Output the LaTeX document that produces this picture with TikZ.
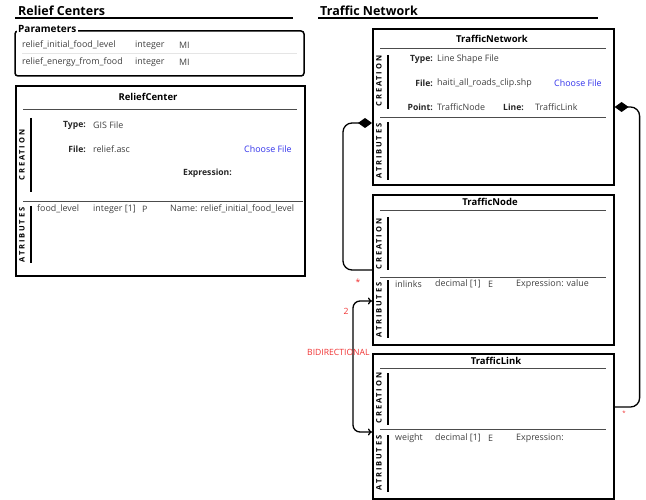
\documentclass[tikz,border=0pt]{standalone}
\usepackage{fontspec}
\setmainfont{Open Sans}
\newfontfamily\spaced[LetterSpace=25]{Open Sans}
\usepackage{xcolor}
\usepackage{tikz}
\usetikzlibrary{calc,arrows.meta}

\definecolor{textgray}{RGB}{64,64,64}
\definecolor{labelred}{RGB}{240,50,50}
\definecolor{linkblue}{RGB}{50,50,235}

\begin{document}
\begin{tikzpicture}[x=1pt,y=-1pt]
        % Styles for the boxes, their texts and the connectors
        \tikzstyle{heading}=[font=\fontsize{12.5}{14}\selectfont\bfseries, anchor=west, inner sep=0];
        \tikzstyle{classbox}=[draw, line width=1.6, anchor=north west, inner sep=0];
        \tikzstyle{classname}=[font=\fontsize{9.5}{11}\selectfont\bfseries, inner sep=0];
        \tikzstyle{fieldtext}=[font=\fontsize{8.9}{10}\selectfont, text=textgray, anchor=west, inner sep=0];
        \tikzstyle{fieldkey}=[font=\fontsize{8.6}{10}\selectfont\bfseries, text=black!85, anchor=east, inner sep=0];
        \tikzstyle{sidelabel}=[font=\spaced\fontsize{7.5}{8}\selectfont\bfseries, rotate=90, inner sep=0];
        \tikzstyle{sidebar}=[line width=1.8];
        \tikzstyle{rulerline}=[draw=black!70, line width=0.9];
        \tikzstyle{conn}=[line width=1.3, rounded corners=9];
        \tikzstyle{redlabel}=[font=\fontsize{8.6}{10}\selectfont, text=labelred, inner sep=0];

        \useasboundingbox (0,0) rectangle (646,500);

        % Section headings
        \node[heading] (reliefhead) at (18,11) {Relief Centers};
        \draw[line width=2] (15,18) -- (293,18);
        \node[heading] (traffichead) at (320,11) {Traffic Network};
        \draw[line width=2] (318,18) -- (598,18);

        % Parameters box
        \draw[line width=1.5, rounded corners=3] (15,31) rectangle (304,76);
        \node[fill=white, font=\fontsize{10}{12}\selectfont\bfseries, anchor=west, inner sep=1.5] (params) at (16.5,29) {Parameters};
        \foreach \pname/\py in {relief\_initial\_food\_level/45, relief\_energy\_from\_food/62} {
            \node[fieldtext] (pname\py) at (22,\py) {\pname};
            \node[fieldtext] (ptype\py) at (135,\py) {integer};
            \node[fieldtext] (punit\py) at (179,\py) {MI};
        }
        \draw[draw=black!10, line width=0.8] (22,53) -- (297,53);

        % ReliefCenter box
        \node[classbox, minimum width=289, minimum height=190] (relief) at (15,85) {};
        \node[classname] (reliefname) at (148,97) {ReliefCenter};
        \draw[rulerline] (23,109) -- (297,109);
        \node[sidelabel] (reliefcreation) at (22,155) {CREATION};
        \draw[sidebar] (31,118) -- (31,192);
        \node[fieldkey] (relieftypekey) at (86,125) {Type:};
        \node[fieldtext] (relieftype) at (93,125) {GIS File};
        \node[fieldkey] (relieffilekey) at (86,149) {File:};
        \node[fieldtext] (relieffile) at (93,149) {relief.asc};
        \node[fieldtext, text=linkblue] (reliefchoose) at (244,149) {Choose File};
        \node[fieldkey, anchor=west] (reliefexpr) at (183,173) {Expression:};
        \draw[rulerline] (23,201) -- (303,201);
        \node[sidelabel] (reliefattr) at (22,235) {ATRIBUTES};
        \draw[sidebar] (31,206) -- (31,263);
        \node[fieldtext] (foodname) at (37,209) {food\_level};
        \node[fieldtext] (foodtype) at (93,209) {integer [1]};
        \node[fieldtext] (foodkind) at (142,209) {P};
        \node[fieldtext] (foodvalue) at (170,209) {Name: relief\_initial\_food\_level};

        % TrafficNetwork box
        \node[classbox, minimum width=241, minimum height=156] (network) at (372,28) {};
        \node[classname] (networkname) at (492,39) {TrafficNetwork};
        \draw[rulerline] (380,48) -- (606,48);
        \node[sidelabel] (networkcreation) at (379,81) {CREATION};
        \draw[sidebar] (388,55) -- (388,109);
        \node[fieldkey] (networktypekey) at (433,59) {Type:};
        \node[fieldtext] (networktype) at (437,59) {Line Shape File};
        \node[fieldkey] (networkfilekey) at (433,83) {File:};
        \node[fieldtext] (networkfile) at (437,83) {haiti\_all\_roads\_clip.shp};
        \node[fieldtext, text=linkblue] (networkchoose) at (554,83) {Choose File};
        \node[fieldkey] (networkpointkey) at (433,107) {Point:};
        \node[fieldtext] (networkpoint) at (437,107) {TrafficNode};
        \node[fieldkey, anchor=west] (networklinekey) at (503,107) {Line:};
        \node[fieldtext] (networkline) at (535,107) {TrafficLink};
        \draw[rulerline] (380,117) -- (606,117);
        \node[sidelabel] (networkattr) at (379,151) {ATRIBUTES};
        \draw[sidebar] (388,122) -- (388,180);

        % TrafficNode box
        \node[classbox, minimum width=241, minimum height=150] (trafnode) at (372,194) {};
        \node[classname] (trafnodename) at (490,202) {TrafficNode};
        \draw[rulerline] (380,210) -- (606,210);
        \node[sidelabel] (trafnodecreation) at (379,244) {CREATION};
        \draw[sidebar] (388,217) -- (388,270);
        \draw[rulerline] (380,277) -- (606,277);
        \node[sidelabel] (trafnodeattr) at (379,310) {ATRIBUTES};
        \draw[sidebar] (388,280) -- (388,338);
        \node[fieldtext] (inlinksname) at (395,284) {inlinks};
        \node[fieldtext] (inlinkstype) at (435,284) {decimal [1]};
        \node[fieldtext] (inlinkskind) at (488,284) {E};
        \node[fieldtext] (inlinksvalue) at (516,284) {Expression: value};

        % TrafficLink box
        \node[classbox, minimum width=241, minimum height=145] (link) at (372,353) {};
        \node[classname] (linkname) at (496,361) {TrafficLink};
        \draw[rulerline] (380,368) -- (606,368);
        \node[sidelabel] (linkcreation) at (379,398) {CREATION};
        \draw[sidebar] (388,373) -- (388,425);
        \draw[rulerline] (380,429) -- (606,429);
        \node[sidelabel] (linkattr) at (379,463) {ATRIBUTES};
        \draw[sidebar] (388,435) -- (388,492);
        \node[fieldtext] (weightname) at (395,438) {weight};
        \node[fieldtext] (weighttype) at (435,438) {decimal [1]};
        \node[fieldtext] (weightkind) at (488,438) {E};
        \node[fieldtext] (weightvalue) at (516,438) {Expression:};

        % Connector end points on the box edges
        \coordinate (netL) at ($(network.north west)+(0,95)$);
        \coordinate (netR) at ($(network.north east)+(0,79)$);
        \coordinate (nodeL) at ($(trafnode.north west)+(0,76)$);
        \coordinate (nodeA) at ($(trafnode.north west)+(0,107)$);
        \coordinate (linkA) at ($(link.north west)+(0,79)$);
        \coordinate (linkR) at ($(link.north east)+(0,54)$);

        % Connectors
        \draw[conn, {Diamond[length=14pt,width=10pt]}-] (netL) -| ($(nodeL)+(-29,0)$) -- (nodeL);
        \draw[conn, {Diamond[length=14pt,width=10pt]}-] (netR) -| ($(linkR)+(25,0)$) -- (linkR);
        \draw[conn, rounded corners=7, {To[length=4pt,width=7pt]}-{To[length=4pt,width=7pt]}] (nodeA) -| ($(linkA)+(-19,0)$) -- (linkA);

        % Red labels
        \node[redlabel] (starnode) at (358,282) {*};
        \node[redlabel] (countlabel) at (346,311) {2};
        \node[redlabel, anchor=west] (bidirlabel) at (307,352) {BIDIRECTIONAL};
        \node[redlabel, font=\fontsize{6}{7}\selectfont] (starlink) at (624,413) {*};

    \end{tikzpicture}
\end{document}
